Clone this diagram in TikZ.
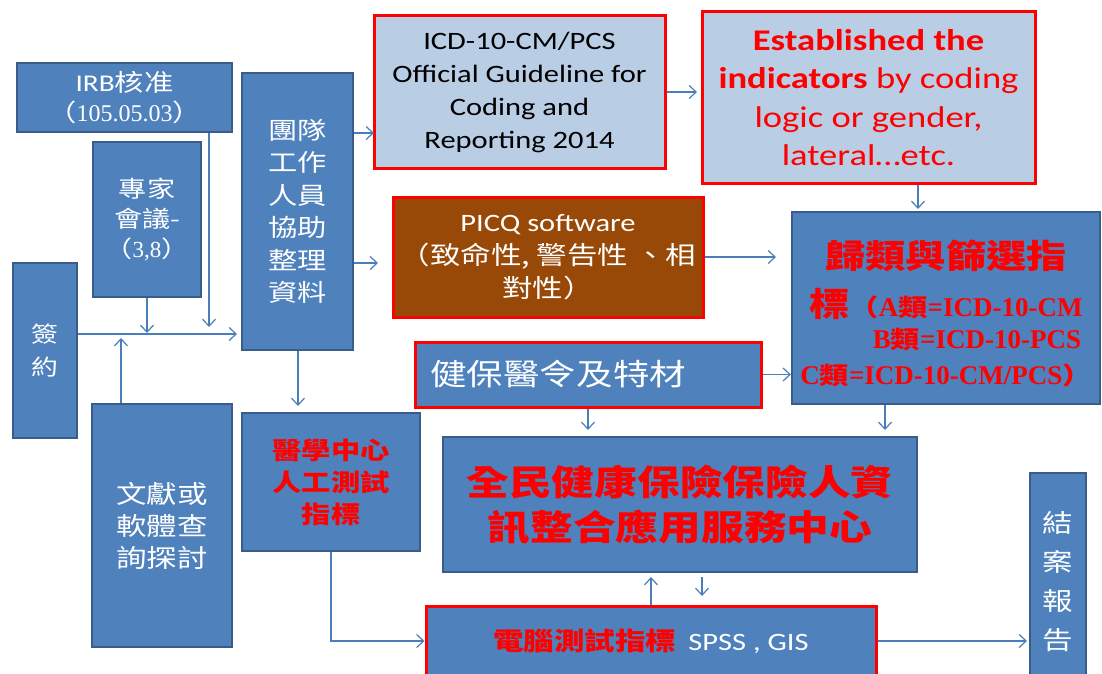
\documentclass[tikz,border=0pt]{standalone}
\usepackage{fontspec}
\setmainfont{Carlito}[FakeStretch=1.22]
\newfontfamily\cjk{Noto Sans CJK TC}[FakeStretch=1.22]
\newfontfamily\ser{Liberation Serif}
\usetikzlibrary{arrows.meta}
\definecolor{bfill}{HTML}{4F81BD}
\definecolor{bline}{HTML}{385D8A}
\definecolor{lblue}{HTML}{B9CDE5}
\definecolor{picqbrown}{HTML}{984807}
\definecolor{arrc}{HTML}{4A7EBB}
\definecolor{pred}{HTML}{FF0000}
\newcommand{\serb}[1]{{\ser\bfseries\fontsize{27}{36}\selectfont #1}}
\tikzset{
  bx/.style={draw=bline, line width=2.2pt, fill=bfill, inner sep=0pt, align=center, text=white},
  rbx/.style={draw=pred, line width=3pt, inner sep=0pt, align=center},
  arr/.style={draw=arrc, line width=1.2pt, -{Straight Barb[length=7pt,width=13pt]}},
}
\begin{document}
\begin{tikzpicture}[x=1pt,y=-1pt]
\useasboundingbox (0,0) rectangle (1102,674);
\clip (0,0) rectangle (1102,674);

% boxes
\node[bx, minimum width=215pt, minimum height=69pt, font=\fontsize{24}{30}\selectfont] (irb) at (124.5,97.5)
  {IRB{\cjk 核准}\\{\cjk （}{\ser 105.05.03}{\cjk ）}};
\node[bx, minimum width=108pt, minimum height=155pt, font=\cjk\fontsize{23}{30}\selectfont] (zj) at (147,219.5)
  {專家\\會議-\\（{\ser 3,8}）};
\node[bx, minimum width=64pt, minimum height=175pt, font=\cjk\fontsize{22}{33}\selectfont] (qy) at (45,350.5)
  {簽\\約};
\node[bx, minimum width=111pt, minimum height=277pt, font=\cjk\fontsize{24}{32.5}\selectfont] (team) at (297.5,211.5)
  {團隊\\工作\\人員\\協助\\整理\\資料};
\node[bx, minimum width=140pt, minimum height=243pt, font=\cjk\fontsize{25}{32}\selectfont] (wx) at (162,525.5)
  {文獻或\\軟體查\\詢探討};
\node[bx, minimum width=178pt, minimum height=138pt, text=pred, font=\cjk\bfseries\fontsize{24}{32}\selectfont] (yx) at (331,482)
  {醫學中心\\人工測試\\指標};
\node[rbx, fill=lblue, minimum width=291pt, minimum height=152pt, text=black, font=\fontsize{25}{33}\selectfont] (icd) at (519.5,92)
  {ICD-10-CM/PCS\\Official Guideline for\\Coding and\\Reporting 2014};
\node[rbx, fill=lblue, minimum width=333pt, minimum height=171pt, text=pred, font=\fontsize{30}{38.5}\selectfont] (est) at (868.5,97.5)
  {\textbf{Established the}\\\textbf{indicators} by coding\\logic or gender,\\lateral…etc.};
\node[rbx, fill=picqbrown, minimum width=310pt, minimum height=120pt, text=white, font=\fontsize{25}{33}\selectfont] (picq) at (548,257)
  {PICQ software\\{\cjk （致命性, 警告性 、相}\\{\cjk 對性）}};
\node[bx, draw=pred, line width=3pt, minimum width=346pt, minimum height=65pt, text width=316pt, align=left, font=\cjk\fontsize{30}{30}\selectfont] (jb) at (588,374.5)
  {健保醫令及特材};
\node[bx, minimum width=308pt, minimum height=192pt, text=pred, font=\cjk\bfseries\fontsize{33}{36}\selectfont] (gl) at (946,308)
  {\rule{0pt}{40pt}歸類與篩選指\\[12pt]
   標{\fontsize{24}{36}\selectfont （\serb{A}類\serb{=ICD-10-CM}}\\[-4pt]
   \hspace*{62pt}{\fontsize{24}{36}\selectfont \serb{B}類\serb{=ICD-10-PCS}}\\
   {\fontsize{24}{36}\selectfont \serb{C}類\serb{=ICD-10-CM/PCS}）}};
\node[bx, minimum width=474pt, minimum height=135pt, text=pred, font=\cjk\bfseries\fontsize{35}{45}\selectfont] (qm) at (680,504.5)
  {全民健康保險保險人資\\訊整合應用服務中心};
\node[bx, draw=pred, line width=3pt, minimum width=450pt, minimum height=70pt, font=\fontsize{25}{30}\selectfont] (dn) at (651,641)
  {\textcolor{pred}{\cjk\bfseries 電腦測試指標}\hspace{12pt}SPSS , GIS};
\node[bx, minimum width=56pt, minimum height=217pt, font=\cjk\fontsize{25}{39}\selectfont] (ja) at (1058,581.5)
  {結\\案\\報\\告};

% connector end points
\coordinate (irbE) at (209,327);
\coordinate (mainE) at (237,334);
\coordinate (zjE) at (147,333);
\coordinate (wxE) at (121,338);
\coordinate (t2i) at (374,133);
\coordinate (icdE) at (697,92);
\coordinate (estE) at (918,209);
\coordinate (picqT) at (378,263);
\coordinate (picqE) at (776,257);
\coordinate (jbD) at (588,430);
\coordinate (glD) at (885,430);
\coordinate (teamD) at (298,406);
\coordinate (upE) at (651,577);
\coordinate (dnE) at (702,596);
\coordinate (jaE) at (1027,641);

% connectors
\draw[arr] (irb.south -| irbE) -- (irbE);
\draw[arr] (zj.south) -- (zjE);
\draw[arr] (qy.east |- mainE) -- (mainE);
\draw[arr] (wx.north -| wxE) -- (wxE);
\draw[arr] (team.east |- t2i) -- (t2i);
\draw[arr] (icd.east) -- (icdE);
\draw[arr] (est.south -| estE) -- (estE);
\draw[arr] (team.east |- picqT) -- (picqT);
\draw[arr] (picq.east) -- (picqE);
\draw[arr] (jb.east) -- (gl.west |- jb.east);
\draw[arr] (jb.south) -- (jbD);
\draw[arr] (gl.south -| glD) -- (glD);
\draw[arr] (team.south -| teamD) -- (teamD);
\draw[arr] (yx.south) |- (dn.west);
\draw[arr] (dn.north) -- (upE);
\draw[arr, shorten <=4pt] (qm.south -| dnE) -- (dnE);
\draw[arr] (dn.east) -- (jaE);
\end{tikzpicture}
\end{document}
